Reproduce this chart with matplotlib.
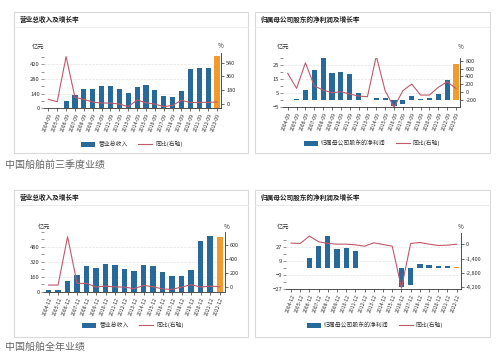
import numpy as np
import matplotlib
matplotlib.use("Agg")
import matplotlib.pyplot as plt
from matplotlib.patches import Rectangle, Patch
from matplotlib.lines import Line2D
from matplotlib.ticker import FixedLocator, FuncFormatter

plt.rcParams['font.family'] = ['Noto Sans CJK SC', 'DejaVu Sans']

# ---- data ----
labels_q3 = ['2004-09', '2005-09', '2006-09', '2007-09', '2008-09', '2009-09', '2010-09',
             '2011-09', '2012-09', '2013-09', '2014-09', '2015-09', '2016-09', '2017-09',
             '2018-09', '2019-09', '2020-09', '2021-09', '2022-09', '2023-09']
labels_y = ['2004-12', '2005-12', '2006-12', '2007-12', '2008-12', '2009-12', '2010-12',
            '2011-12', '2012-12', '2013-12', '2014-12', '2015-12', '2016-12', '2017-12',
            '2018-12', '2019-12', '2020-12', '2021-12', '2022-12']

# 前三季度 营业总收入 (亿元) and 同比 (%)
rev_q3 = [5, 5, 73, 127, 184, 188, 210, 210, 184, 149, 206, 219, 175, 117, 108, 162, 378, 385, 385, 502]
rev_q3_yoy = [58, 26, 618, 84, 58, 22, 9, 9, -4, -39, 49, 13, -4, -39, -21, 45, 15, 18, 18, 22]

# 前三季度 归母净利润 (亿元) and 同比 (%)
np_q3 = [0.3, 0.5, 7.1, 21, 31.4, 19.4, 19.9, 18.4, 5.2, 0.3, 1.2, 1.6, -4, -2.4, 2.8, 0.5, 1.2, 4.2, 14.2, 25.5]
np_q3_yoy = [477, 94, 747, 153, 51, -18, 8, -51, -102, -120, 918, 33, -390, 33, 204, -77, -77, 120, 263, 94]

# 全年 营业总收入 (亿元) and 同比 (%)
rev_y = [14, 18, 114, 178, 274, 256, 295, 284, 245, 220, 281, 277, 213, 167, 167, 231, 544, 590, 587]
rev_y_yoy = [24, 24, 725, 48, 48, -5, 10, -4, -4, -29, 19, 0, -33, -38, -4, 29, -5, 9, 0]

# 全年 归母净利润 (亿元) and 同比 (%)
np_y = [0.5, 0.5, 12.6, 28.6, 41.6, 24.7, 26, 22, 0.4, 0.2, 0.3, 0.5, -25, -22, 5.2, 3.9, 2.6, 2.2, 1.2]
np_y_yoy = [99, 66, 789, 230, 66, 0, 0, -66, -197, 131, -33, -197, -4273, 66, 164, 0, -131, -99, 0]

W, H = 500, 353
BLUE = '#27699a'
ORANGE = '#f39a2c'
RED = '#c05a6a'

fig = plt.figure(figsize=(W / 100, H / 100), dpi=100)


def fx(x):
    return x / W


def fy(y):
    return 1 - y / H


def panel(x0, x1, y0, y1, title):
    fig.add_artist(Rectangle((fx(x0), fy(y1)), (x1 - x0) / W, (y1 - y0) / H,
                             transform=fig.transFigure, fill=False, ec='#d9d9d9', lw=0.8))
    fig.add_artist(Line2D([fx(x0), fx(x1)], [fy(y0 + 15)] * 2, transform=fig.transFigure,
                          color='#e8e8e8', lw=0.6))
    fig.text(fx(x0 + 6), fy(y0 + 7.5), title, fontsize=4.8, fontweight='bold',
             va='center', color='#222222')


def chart(px, py, labels, bars, yoy, ylim, major, minor, rlim, rticks, bar_name, leg_xy, unit_xy, pct_xy):
    ax = fig.add_axes([fx(px[0]), fy(py[1]), (px[1] - px[0]) / W, (py[1] - py[0]) / H])
    ax2 = ax.twinx()
    x = np.arange(len(bars))
    colors = [BLUE] * (len(bars) - 1) + [ORANGE]
    ax.bar(x, bars, width=0.58, color=colors, zorder=2)
    ax2.plot(x, yoy, color=RED, lw=0.8)

    ax.set_xlim(-0.5, len(bars) - 0.5)
    ax.set_ylim(*ylim)
    ax2.set_ylim(*rlim)

    ax.yaxis.set_major_locator(FixedLocator(major))
    ax.yaxis.set_minor_locator(FixedLocator(minor))
    ax.tick_params(axis='y', which='both', length=2, width=0.5, color='#666666',
                   labelsize=4.2, labelcolor='#333333', pad=1)
    ax.grid(axis='y', which='major', color='#e3e3e3', lw=0.5, ls='--')
    ax.set_axisbelow(True)

    ax.set_xticks(x)
    ax.set_xticklabels(labels, rotation=70, ha='right', rotation_mode='anchor', fontsize=3.7,
                       color='#333333')
    ax.tick_params(axis='x', length=2, width=0.5, color='#333333', pad=1.5)

    ax2.yaxis.set_major_locator(FixedLocator(rticks))
    ax2.yaxis.set_major_formatter(FuncFormatter(lambda v, p: f'{v:,.0f}'))
    ax2.tick_params(axis='y', length=2, width=0.5, color='#333333', labelsize=4.0,
                    labelcolor='#333333', pad=1.5)

    for a in (ax, ax2):
        for s in ('top', 'left', 'right', 'bottom'):
            a.spines[s].set_visible(False)
    ax.spines['bottom'].set_visible(True)
    ax.spines['bottom'].set_color('#333333')
    ax.spines['bottom'].set_linewidth(0.6)
    ax2.spines['right'].set_visible(True)
    ax2.spines['right'].set_color('#333333')
    ax2.spines['right'].set_linewidth(0.6)

    handles = [Patch(fc=BLUE, ec='none'), Line2D([], [], color=RED, lw=0.8)]
    ax2.legend(handles, [bar_name, '同比(右轴)'], loc='center',
               bbox_to_anchor=(fx(leg_xy[0]), fy(leg_xy[1])), bbox_transform=fig.transFigure,
               ncol=2, frameon=False, fontsize=4.2, handlelength=2.4, handleheight=1.0,
               columnspacing=1.8, handletextpad=0.5, labelcolor='#333333')

    fig.text(fx(unit_xy[0]), fy(unit_xy[1]), '亿元', fontsize=4.5, ha='center', va='center',
             color='#333333')
    fig.text(fx(pct_xy[0]), fy(pct_xy[1]), '%', fontsize=4.5, ha='center', va='center',
             color='#333333')


panel(14, 248, 12, 153, '营业总收入及增长率')
panel(255, 490, 12, 153, '归属母公司股东的净利润及增长率')
panel(14, 248, 190, 337, '营业总收入及增长率')
panel(255, 490, 190, 337, '归属母公司股东的净利润及增长率')

chart((43.9, 221.4), (53, 108.3), labels_q3, rev_q3, rev_q3_yoy,
      (0, 528), [0, 140, 280, 420], [70, 210, 350, 490],
      (-60, 666), [0, 180, 360, 540], '营业总收入', (132, 144), (38, 47), (221, 46))

chart((283.3, 460.4), (57.6, 107.3), labels_q3, np_q3, np_q3_yoy,
      (-5, 30), [-5, 5, 15, 25], [0, 10, 20, 30],
      (-390, 880), [-400, -200, 0, 200, 400, 600, 800], '归属母公司股东的净利润', (372, 143),
      (283, 46.7), (460.7, 46.7))

chart((43.8, 224.5), (231.7, 291.7), labels_y, rev_y, rev_y_yoy,
      (0, 640), [0, 160, 320, 480], [80, 240, 400, 560, 640],
      (-72, 797), [0, 200, 400, 600], '营业总收入', (133, 325), (44, 227.3), (226.7, 227.3))

chart((286.4, 461.3), (233.3, 288.8), labels_y, np_y, np_y_yoy,
      (-27, 45), [-27, -9, 9, 27], [-18, 0, 18, 36],
      (-4339, 1055), [-4200, -2800, -1400, 0], '归属母公司股东的净利润', (375, 325),
      (283, 226.7), (461, 226.7))

fig.text(fx(5), fy(165), '中国船舶前三季度业绩', fontsize=7.2, color='#666666', va='center')
fig.text(fx(5), fy(346.5), '中国船舶全年业绩', fontsize=7.2, color='#666666', va='center')

fig.savefig('out.png', dpi=100)
